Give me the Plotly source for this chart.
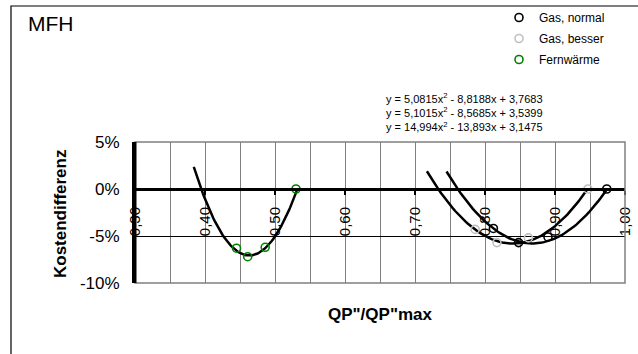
import numpy as np
import plotly.graph_objects as go

# ---- data ----
gas_normal_x = [0.812, 0.848, 0.890, 0.974]
gas_normal_y = [-0.042, -0.057, -0.051, 0.0]
gas_besser_x = [0.786, 0.817, 0.862, 0.947]
gas_besser_y = [-0.043, -0.057, -0.052, 0.0]
fern_x = [0.445, 0.461, 0.486, 0.530]
fern_y = [-0.063, -0.072, -0.062, 0.0]

# trendline coefficients (a, b, c) shown on the chart and their x-extent
coef_normal = [5.0815, -8.8188, 3.7683]
coef_besser = [5.1015, -8.5685, 3.5399]
coef_fern = [14.994, -13.893, 3.1475]
span_normal = [0.745, 0.974]
span_besser = [0.717, 0.947]
span_fern = [0.384, 0.531]

series_names = ["Gas, normal", "Gas, besser", "Fernwärme"]
equations = [
    "y = 5,0815x<sup>2</sup> - 8,8188x + 3,7683",
    "y = 5,1015x<sup>2</sup> - 8,5685x + 3,5399",
    "y = 14,994x<sup>2</sup> - 13,893x + 3,1475",
]
x_ticks = [0.30, 0.40, 0.50, 0.60, 0.70, 0.80, 0.90, 1.00]
y_ticks = [0.05, 0.0, -0.05, -0.10]
y_ticktext = ["5%", "0%", "-5%", "-10%"]

FONT = "Arial, Liberation Sans, sans-serif"
colors = ["#000000", "#c0c0c0", "#008000"]

fig = go.Figure()

def trend(coef, span):
    xs = np.linspace(span[0], span[1], 80)
    return xs, np.polyval(coef, xs)

for coef, span in [(coef_normal, span_normal), (coef_besser, span_besser), (coef_fern, span_fern)]:
    xs, ys = trend(coef, span)
    fig.add_trace(go.Scatter(x=xs, y=ys, mode="lines", line=dict(color="black", width=2.5),
                             showlegend=False, hoverinfo="skip"))

for name, xs, ys, c in zip(series_names,
                           [gas_normal_x, gas_besser_x, fern_x],
                           [gas_normal_y, gas_besser_y, fern_y], colors):
    fig.add_trace(go.Scatter(x=xs, y=ys, mode="markers", name=name, legendgroup=name,
                             marker=dict(symbol="circle-open", size=8, color=c, line=dict(width=1.6, color=c))))

L, R, T, B = 135, 13, 142, 71
W, H = 638, 354
pw, ph = W - L - R, H - T - B

def px_x(x):
    return (x - L) / pw

def px_y(y):
    return (H - B - y) / ph

fig.update_layout(
    width=W, height=H,
    margin=dict(l=L, r=R, t=T, b=B, autoexpand=False),
    paper_bgcolor="white", plot_bgcolor="white",
    separators=",.",
    font=dict(family=FONT, color="black"),
    xaxis=dict(range=[0.30, 1.00], tickvals=x_ticks, tickformat=".2f", tickangle=-90,
               tickfont=dict(size=15), ticks="outside", ticklen=4, tickcolor="black", tickwidth=1.5,
               ticklabelstandoff=6,
               showline=True, linecolor="black", linewidth=3,
               showgrid=True, gridcolor="#808080", gridwidth=1,
               minor=dict(dtick=0.05, tick0=0.3, showgrid=True, gridcolor="#808080", gridwidth=1),
               zeroline=False, anchor="free", position=2/3, automargin=False),
    yaxis=dict(range=[-0.10, 0.05], tickvals=y_ticks, ticktext=y_ticktext, tickfont=dict(size=17),
               ticklabelstandoff=9,
               showline=True, linecolor="black", linewidth=3,
               showgrid=True, gridcolor="black", gridwidth=1, zeroline=False,
               domain=[0, 1], automargin=False),
    legend=dict(x=px_x(499), y=px_y(3), xanchor="left", yanchor="top",
                font=dict(size=12, family=FONT, color="black"), bgcolor="rgba(0,0,0,0)",
                itemwidth=30, tracegroupgap=2),
    shapes=[
        dict(type="rect", xref="paper", yref="paper", x0=0, x1=1, y0=0, y1=1,
             line=dict(color="#808080", width=1.5), layer="above"),
        dict(type="line", xref="paper", yref="paper", x0=0, x1=0, y0=0, y1=1,
             line=dict(color="black", width=3), layer="above"),
        dict(type="rect", xref="paper", yref="paper", x0=px_x(11), x1=px_x(700), y0=px_y(6), y1=px_y(420),
             line=dict(color="black", width=1.2), layer="below"),
    ],
    annotations=[
        dict(text="MFH", x=px_x(26), y=px_y(23), xref="paper", yref="paper", xanchor="left", yanchor="middle",
             showarrow=False, font=dict(size=21, family=FONT)),
        dict(text="<br>".join(equations), x=px_x(464), y=px_y(112), xref="paper", yref="paper",
             xanchor="center", yanchor="middle", showarrow=False, align="center",
             font=dict(size=11, family=FONT)),
        dict(text="<b>Kostendifferenz</b>", x=px_x(60), y=px_y(214), xref="paper", yref="paper",
             xanchor="center", yanchor="middle",
             textangle=-90, showarrow=False, font=dict(size=17, family=FONT)),
        dict(text="<b>QP\"/QP\"max</b>", x=px_x(380), y=px_y(314), xref="paper", yref="paper",
             xanchor="center", yanchor="middle",
             showarrow=False, font=dict(size=17, family=FONT)),
    ],
)

fig.write_html("out.html", config={"displayModeBar": False},
               post_script="document.body.style.margin='0';document.body.style.overflow='hidden';")
